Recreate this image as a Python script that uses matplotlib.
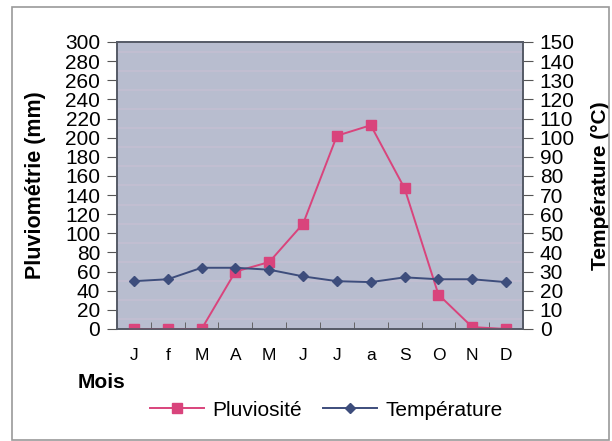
import matplotlib.pyplot as plt
from matplotlib.patches import Rectangle

# data
mois = ['J', 'f', 'M', 'A', 'M', 'J', 'J', 'a', 'S', 'O', 'N', 'D']
pluie = [0, 0, 0, 60, 70, 110, 202, 213, 147, 36, 2, 0]
temp = [25, 26, 32, 32, 31, 27.5, 25, 24.5, 27, 26, 26, 24.5]
ticks_pluie = list(range(0, 301, 20))
ticks_temp = list(range(0, 151, 10))

plt.rcParams['font.family'] = ['Liberation Sans', 'DejaVu Sans']

fig = plt.figure(figsize=(6.12, 4.41), dpi=100)
ax = fig.add_axes([117/612, 1 - 329/441, (523 - 117)/612, (329 - 42)/441])
ax.set_facecolor('#b8bdcf')
ax2 = ax.twinx()

x = list(range(len(mois)))
l1, = ax.plot(x, pluie, color='#d9447c', lw=1.4, marker='s', ms=7,
              label='Pluviosité', zorder=3)
l2, = ax2.plot(x, temp, color='#3d4d7c', lw=1.4, marker='D', ms=5.5,
               label='Température', zorder=3)

ax.set_xlim(-0.5, 11.5)
ax.set_ylim(0, 300)
ax2.set_ylim(0, 150)
ax.set_yticks(ticks_pluie)
ax2.set_yticks(ticks_temp)
ax.set_xticks(x)
ax.set_xticklabels(mois)
ax.set_xticks([i + 0.5 for i in range(-1, 12)], minor=True)

# faint horizontal banding like the scanned background
ax.set_yticks(list(range(0, 301, 10)), minor=True)
ax.grid(which='minor', axis='y', color='#c6bfd2', lw=1.5, alpha=0.7)
ax.tick_params(axis='y', which='minor', length=0)

ax.tick_params(axis='x', which='major', length=0, pad=14, labelsize=12.5)
ax.tick_params(axis='x', which='minor', length=5, direction='in', color='#555555')
ax.tick_params(axis='y', which='major', length=7, pad=5, labelsize=15, color='#555555')
ax2.tick_params(axis='y', length=7, pad=5, labelsize=15, color='#555555')

for a in (ax, ax2):
    for s in a.spines.values():
        s.set_color('#555a66')
        s.set_linewidth(1.2)

ax.set_ylabel('Pluviométrie (mm)', fontsize=15.5, fontweight='bold', labelpad=14)
ax2.set_ylabel('Température (°C)', fontsize=15, fontweight='bold', labelpad=12)

fig.text(78/612, 1 - 383/441, 'Mois', fontsize=15, fontweight='bold', va='center')

fig.legend(handles=[l1, l2], loc='center', bbox_to_anchor=(326/612, 1 - 410/441),
           ncol=2, frameon=False, fontsize=15, handlelength=2.6,
           columnspacing=1.0, handletextpad=0.4)

fig.add_artist(Rectangle((12/612, 1/441), (609 - 12)/612, (434 - 1)/441,
                         transform=fig.transFigure, fill=False,
                         edgecolor='#9a9a9a', lw=1.2))

fig.savefig('out.png', dpi=100)
